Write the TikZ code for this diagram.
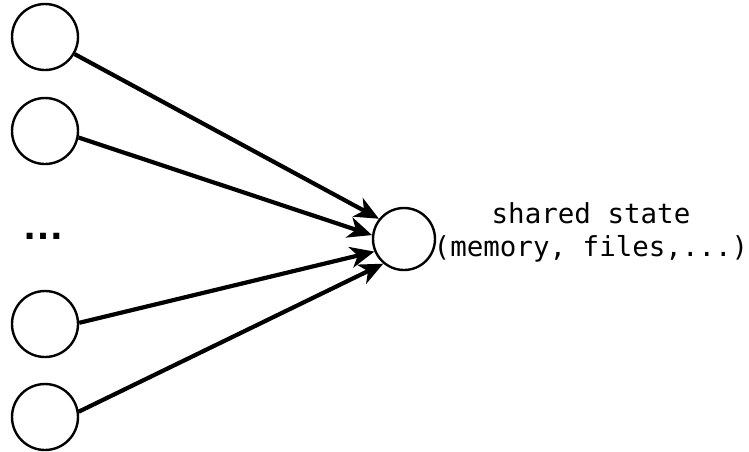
\documentclass[tikz,border=0pt]{standalone}
\usepackage{fontspec}
\setmonofont{DejaVu Sans Mono}
\newfontfamily\dotsfont{Liberation Sans}
\usetikzlibrary{arrows.meta}
\begin{document}
\begin{tikzpicture}[x=1pt,y=-1pt,
  proc/.style={circle,draw,line width=2.4pt,minimum size=66pt,inner sep=0pt},
  hub/.style={circle,draw,line width=2.4pt,minimum size=62pt,inner sep=0pt},
  conn/.style={line width=4.2pt,-{Stealth[length=24pt,width=21pt,inset=7pt]}},
  lbl/.style={font=\ttfamily\fontsize{27.5}{33}\selectfont,align=center}]
\useasboundingbox (0,0) rectangle (749,451);
\node[proc] (p1) at (45,37) {};
\node[proc] (p2) at (45,131) {};
\node[proc] (p3) at (45,324) {};
\node[proc] (p4) at (45,417) {};
\node[font=\dotsfont\bfseries\fontsize{42}{42}\selectfont] (dots) at (44,236) {…};
\node[hub] (s) at (404,239) {};
\node[lbl] (t) at (591,232) {shared state\\(memory, files,...)};
\draw[conn] (p1.-30) -- (s.141);
\draw[conn] (p2.-11) -- (s.173);
\draw[conn] (p3.2) -- (s.203);
\draw[conn] (p4.9) -- (s.230);
\end{tikzpicture}
\end{document}
